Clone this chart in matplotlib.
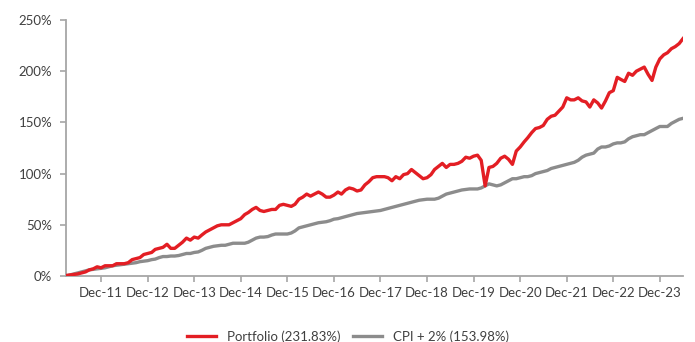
import pandas as pd
import matplotlib.pyplot as plt
import matplotlib.dates as mdates
from matplotlib.ticker import FuncFormatter

# Cumulative return (%), month-end from Mar-2011 to Jun-2024
dates = pd.date_range("2011-03-31", "2024-06-30", freq="ME")

portfolio = [
    0.5, 1, 1.5, 2, 3, 4, 6, 7, 9, 8, 10, 10, 10, 12, 12, 12, 13, 16, 17, 18,
    21, 22, 23, 26, 27, 28, 31, 27, 27, 30, 33, 37, 35, 38, 37, 40, 43, 45, 47, 49,
    50, 50, 50, 52, 54, 56, 60, 62, 65, 67, 64, 63, 64, 65, 65, 69, 70, 69, 68, 70,
    75, 77, 80, 78, 80, 82, 80, 77, 77, 79, 82, 80, 84, 86, 85, 83, 84, 89, 92, 96,
    97, 97, 97, 96, 93, 97, 95, 99, 100, 104, 101, 98, 95, 96, 99, 104, 107, 110, 106, 109,
    109, 110, 112, 116, 115, 117, 118, 113, 88, 106, 107, 110, 115, 117, 114, 109, 122, 126, 131, 135,
    140, 144, 145, 147, 153, 156, 157, 161, 165, 174, 172, 172, 174, 171, 170, 165, 172, 169, 164, 171,
    179, 181, 194, 192, 190, 198, 196, 200, 202, 204, 197, 191, 204, 212, 216, 218, 222, 224, 227, 231.83,
]

cpi_plus_2 = [
    0, 1, 2, 3, 4, 5, 6, 6.5, 7, 7.5, 8, 9, 10, 10.5, 11, 11.5, 12, 12.5, 13, 14,
    14.5, 15, 16, 16.5, 18, 19, 19, 19.5, 19.5, 20, 21, 22, 22, 23, 23.5, 25, 27, 28, 29, 29.5,
    30, 30, 31, 32, 32, 32, 32, 33, 35, 37, 38, 38, 38.5, 40, 41, 41, 41, 41, 42, 44,
    47, 48, 49, 50, 51, 52, 52.5, 53, 54, 55.5, 56, 57, 58, 59, 60, 61, 61.5, 62, 62.5, 63,
    63.5, 64, 65, 66, 67, 68, 69, 70, 71, 72, 73, 74, 74.5, 75, 75, 75, 76, 78, 80, 81,
    82, 83, 84, 84.5, 85, 85, 85, 86, 88, 90, 89, 88, 89, 91, 93, 95, 95, 96, 97, 97,
    98, 100, 101, 102, 103, 105, 106, 107, 108, 109, 110, 111, 113, 116, 118, 119, 120, 124, 126, 126,
    127, 129, 130, 130, 131, 134, 136, 137, 138, 138, 140, 142, 144, 146, 146, 146, 149, 151, 153, 153.98,
]

RED = "#E31E24"
GREY = "#8C8C8C"
AXIS = "#A6A6A6"
TEXT = "#404040"

plt.rcParams["font.family"] = ["Lato", "DejaVu Sans"]

fig = plt.figure(figsize=(6.95, 3.42), dpi=100)
ax = fig.add_axes([66 / 695, 1 - 276 / 342, (683 - 66) / 695, (276 - 20) / 342])

ax.plot(dates, portfolio, color=RED, lw=2.4, label=f"Portfolio ({portfolio[-1]:.2f}%)", zorder=3)
ax.plot(dates, cpi_plus_2, color=GREY, lw=2.4, label=f"CPI + 2% ({cpi_plus_2[-1]:.2f}%)", zorder=2)

ax.set_xlim(dates[0], dates[-1])
ax.set_ylim(0, 250)
ax.set_yticks(range(0, 251, 50))
ax.yaxis.set_major_formatter(FuncFormatter(lambda v, _: f"{v:.0f}%"))

dec_ticks = [d for d in dates if d.month == 12]
ax.set_xticks(dec_ticks)
ax.xaxis.set_major_formatter(mdates.DateFormatter("Dec-%y"))

for side in ("top", "right"):
    ax.spines[side].set_visible(False)
for side in ("left", "bottom"):
    ax.spines[side].set_color(AXIS)
    ax.spines[side].set_linewidth(1.3)

ax.tick_params(axis="both", colors=AXIS, width=1.2, length=4, labelcolor=TEXT, labelsize=9.5)
ax.tick_params(axis="y", pad=6)
ax.tick_params(axis="x", pad=4)

ax.legend(loc="upper center", bbox_to_anchor=(0.457, -0.165), ncol=2, frameon=False,
          fontsize=9.5, handlelength=2.2, columnspacing=1.0, labelcolor=TEXT)

fig.savefig("out.png", dpi=100)
